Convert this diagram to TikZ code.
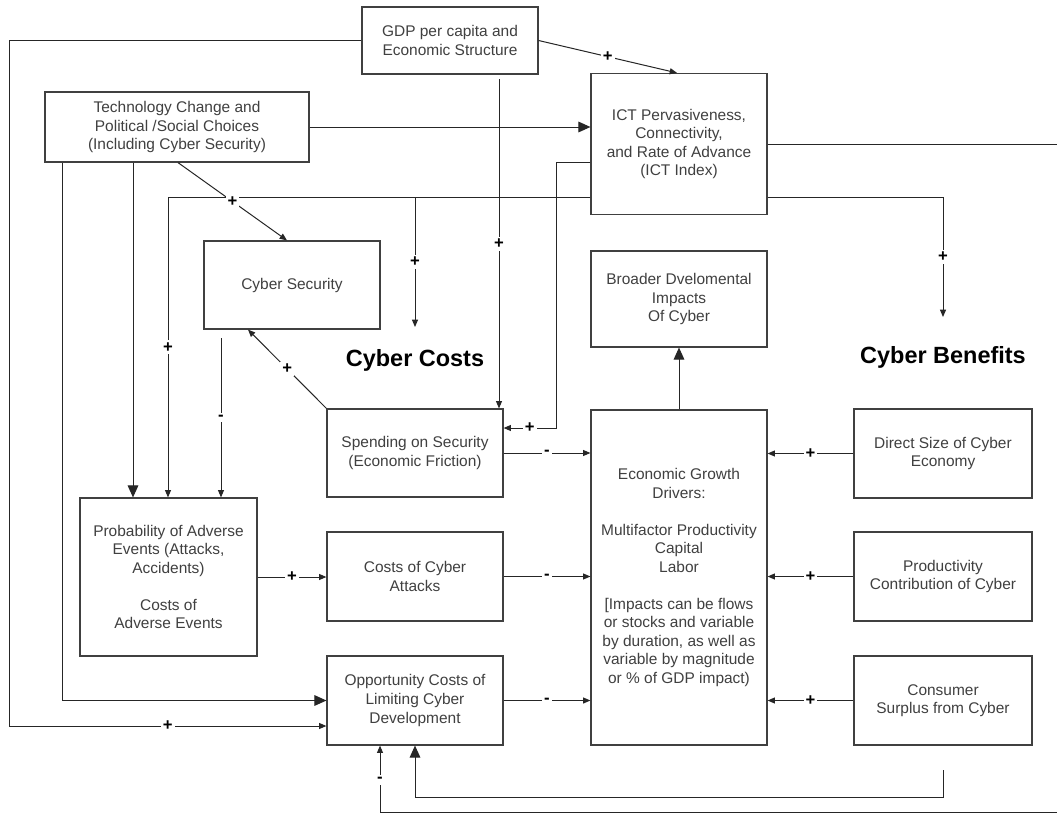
\documentclass[tikz,border=0pt]{standalone}
\usepackage{fontspec}
\setmainfont{Liberation Sans}
\usetikzlibrary{arrows.meta}

\begin{document}
\begin{tikzpicture}[x=0.75pt, y=-0.75pt,
  b/.style={draw=black!75, line width=0.9pt, inner sep=0pt, align=center, text=black!75,
    minimum width=132pt, minimum height=66.75pt, font=\fontsize{11.6}{13.9}\selectfont},
  ln/.style={draw=black!85, line width=0.75pt},
  sa/.style={ln, -{Triangle[length=5.5pt, width=4.5pt]}},
  ba/.style={ln, -{Triangle[length=9pt, width=8pt]}},
  pl/.style={fill=white, inner sep=1.5pt, font=\fontsize{12.5}{14}\selectfont\bfseries},
  hd/.style={font=\fontsize{17.6}{20}\selectfont\bfseries}]
  \useasboundingbox[fill=white] (0,0) rectangle (1057,814);
  % boxes
  \node[b, minimum height=50.25pt] (gdp) at (450,40.5) {GDP per capita and\\Economic Structure};
  \node[b, minimum width=198pt, minimum height=52.5pt] (tech) at (177,127)
    {Technology Change and\\Political /Social Choices\\(Including Cyber Security)};
  \node[b, minimum height=105.75pt] (ict) at (679,144)
    {ICT Pervasiveness,\\Connectivity,\\and Rate of Advance\\(ICT Index)};
  \node[b, minimum height=66pt] (cysec) at (292,285) {Cyber Security};
  \node[b, minimum height=66pt] (spend) at (415,453) {Spending on Security\\(Economic Friction)};
  \node[b, minimum width=132.75pt, minimum height=118.5pt] (prob) at (168.5,577)
    {Probability of Adverse\\Events (Attacks,\\Accidents)\\[\baselineskip]Costs of\\Adverse Events};
  \node[b] (cca) at (415,576.5) {Costs of Cyber\\Attacks};
  \node[b] (opp) at (415,700.5) {Opportunity Costs of\\Limiting Cyber\\Development};
  \node[b, minimum height=72pt] (broad) at (679,299) {Broader Dvelomental\\Impacts\\Of Cyber};
  \node[b, minimum height=251.25pt] (econ) at (679,577.5)
    {Economic Growth\\Drivers:\\[\baselineskip]Multifactor Productivity\\Capital\\Labor\\[\baselineskip]{[}Impacts can be flows\\or stocks and variable\\by duration, as well as\\variable by magnitude\\or \% of GDP impact)};
  \node[b, minimum width=133.5pt] (direct) at (943,453.5) {Direct Size of Cyber\\Economy};
  \node[b, minimum width=133.5pt] (prod) at (943,576.5) {Productivity\\Contribution of Cyber};
  \node[b, minimum width=133.5pt] (cons) at (943,700.5) {Consumer\\Surplus from Cyber};
  \node[hd] (costs) at (415,360) {Cyber Costs};
  \node[hd] (benefits) at (943,357) {Cyber Benefits};
  \coordinate (costtip) at (415,327);
  \coordinate (bentip) at (943,317);
  % GDP links
  \draw[sa] (gdp.west) -| (9,726) -- node[pl]{+} (opp.west |- 0,726);
  \draw[sa] (gdp.east) -- node[pl]{+} (ict.north -| 677,0);
  \draw[sa] (499,79) -- node[pl]{+} (spend.north -| 499,0);
  % ICT index loops
  \draw[sa] (ict.west |- 0,197) -| node[pl, pos=0.75]{+} (prob.north -| 168,0);
  \draw[sa] (415,197) -- node[pl]{+} (costtip);
  \draw[sa] (ict.east |- 0,197) -| node[pl, pos=0.75]{+} (bentip);
  \draw[sa] (ict.west |- 0,162) -| (556,428) -- node[pl]{+} (spend.east |- 0,428);
  \draw[ln] (ict.east) -- (1057,144);
  \draw[sa] (1057,812) -| node[pl, pos=0.74]{-} (opp.south -| 380,0);
  \draw[ba] (cons.south |- 0,770) |- (415,797) -- (opp.south -| 415,0);
  % technology and choices
  \draw[ba] (tech.east) -- (tech.east -| ict.west);
  \draw[ba] (tech.south -| 62,0) |- (opp.west);
  \draw[ba] (tech.south -| 133,0) -- (prob.north -| 133,0);
  \draw[sa] (tech.south -| 178,0) -- node[pl]{+} (cysec.north -| 287,0);
  % cyber security
  \draw[sa] (221,338) -- node[pl]{-} (prob.north -| 221,0);
  \draw[sa] (spend.north west) -- node[pl]{+} (cysec.south -| 248,0);
  \draw[sa] (prob.east) -- node[pl]{+} (prob.east -| cca.west);
  % into growth drivers
  \draw[sa] (spend.east) -- node[pl]{-} (spend.east -| econ.west);
  \draw[sa] (cca.east) -- node[pl]{-} (cca.east -| econ.west);
  \draw[sa] (opp.east) -- node[pl]{-} (opp.east -| econ.west);
  \draw[sa] (direct.west) -- node[pl]{+} (direct.west -| econ.east);
  \draw[sa] (prod.west) -- node[pl]{+} (prod.west -| econ.east);
  \draw[sa] (cons.west) -- node[pl]{+} (cons.west -| econ.east);
  \draw[ba] (econ.north) -- (broad.south);
\end{tikzpicture}
\end{document}
